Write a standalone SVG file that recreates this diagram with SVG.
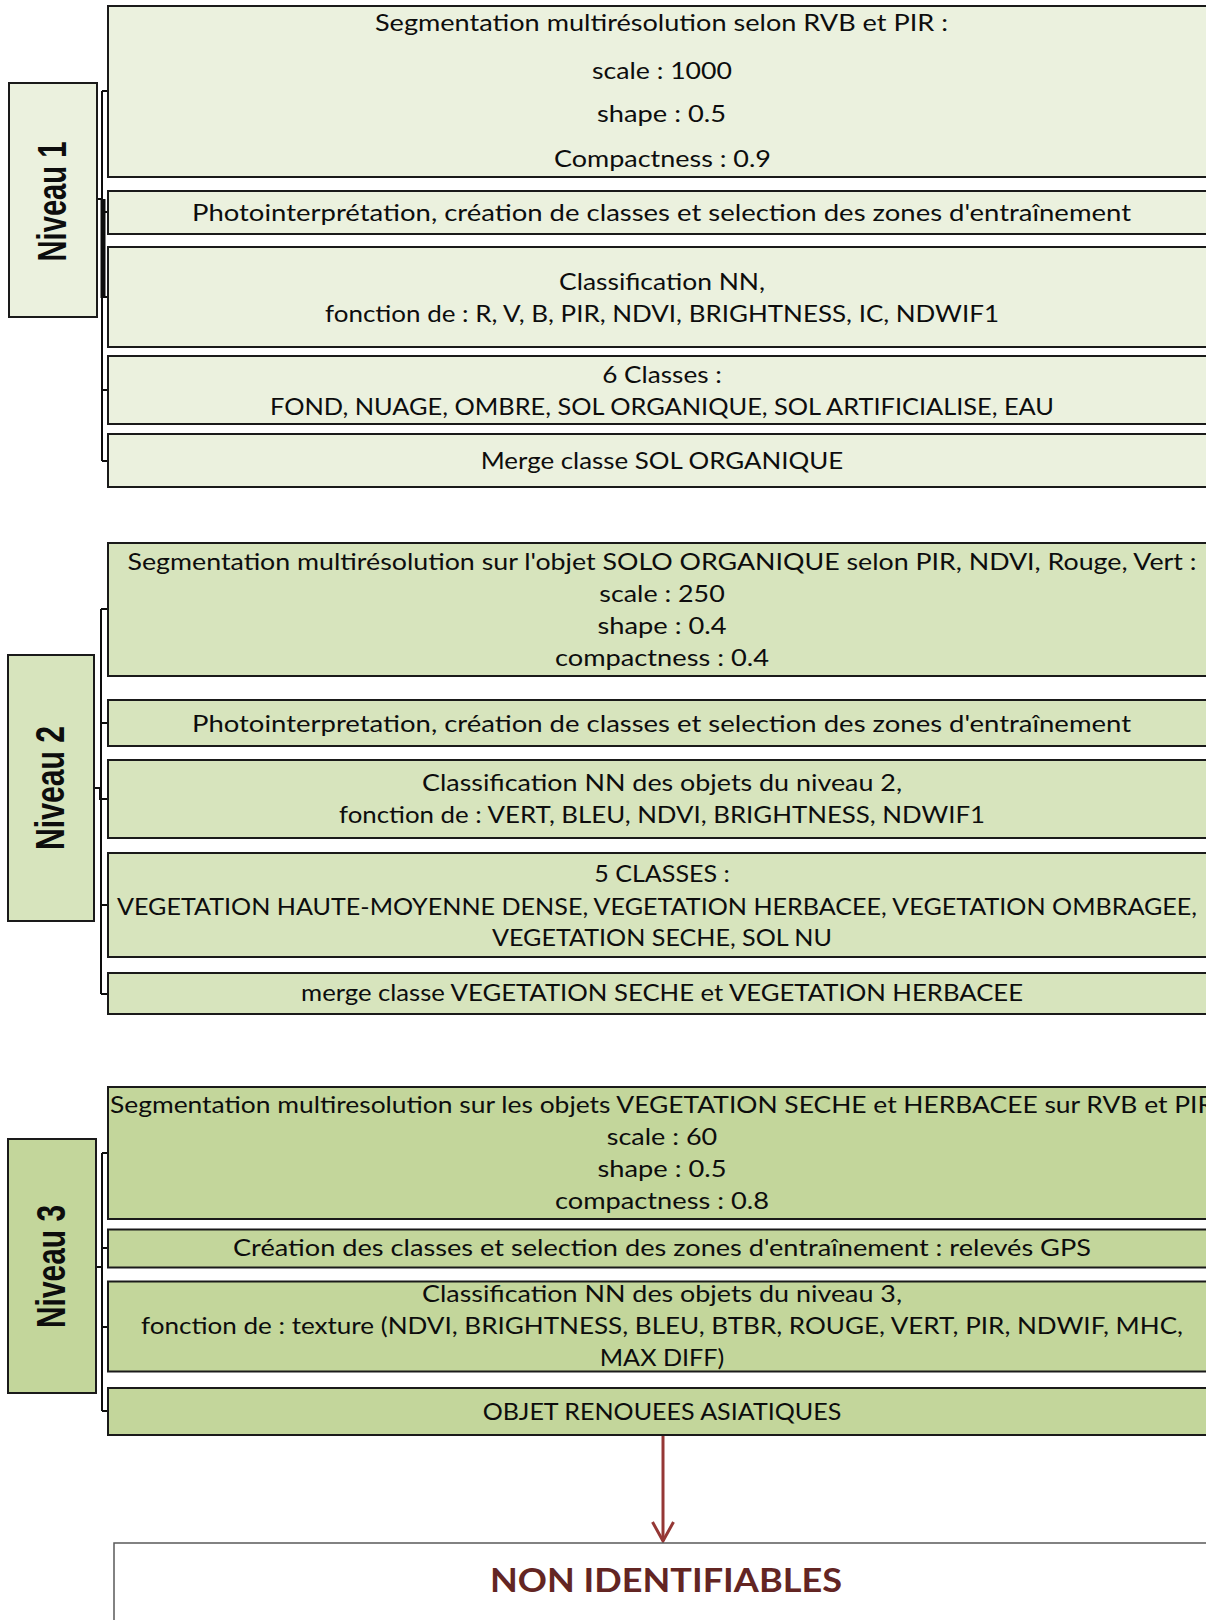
<svg xmlns="http://www.w3.org/2000/svg" width="1206" height="1620" viewBox="0 0 1206 1620">
<style>
.t{font-family:Lato,"Open Sans","Liberation Sans",sans-serif;font-size:23px;fill:#0d0d0d;text-anchor:middle}
.n{font-family:"Liberation Sans",Arial,sans-serif;font-weight:bold;font-size:40px;fill:#0d0d0d;text-anchor:middle}
.b{stroke:#1a1a1a;stroke-width:2}
.l1{fill:#EBF1DE}.l2{fill:#D7E4BD}.l3{fill:#C3D69B}
.c{fill:none;stroke:#0d0d0d;stroke-width:2}
</style>
<defs>
<marker id="ah" markerWidth="24" markerHeight="24" refX="21" refY="12" orient="auto" markerUnits="userSpaceOnUse" viewBox="0 0 24 24">
<path d="M2,1.5 L21,12 L2,22.5" fill="none" stroke="#953735" stroke-width="3"/>
</marker>
</defs>
<rect width="1206" height="1620" fill="#fff"/>

<g id="connectors">
<!-- level 1 -->
<path class="c" d="M97,199 H102 M102,91 V461 M102,91 H108 M102,212 H108 M102,297 H108 M102,390 H108 M102,461 H108"/>
<path d="M103,199 V298" stroke="#0d0d0d" stroke-width="5" fill="none"/>
<!-- level 2 -->
<path class="c" d="M101,609 V994 M101,609 H108 M101,723 H108 M101,905 H108 M101,994 H108 M94,788 H100 V799 H108"/>
<!-- level 3 -->
<path class="c" d="M96,1267 H102 M102,1153 V1411 M102,1153 H108 M102,1248 H108 M102,1327 H108 M102,1411 H108"/>
<!-- arrow -->
<path d="M663,1436 V1541" stroke="#953735" stroke-width="3" fill="none" marker-end="url(#ah)"/>
</g>

<g id="niveau1"><rect class="b l1" x="9" y="83" width="88" height="234"/>
<text class="n" transform="translate(65.5,201.5) rotate(-90)" textLength="120" lengthAdjust="spacingAndGlyphs">Niveau 1</text></g>
<g id="niveau2"><rect class="b l2" x="8" y="655" width="86" height="266"/>
<text class="n" transform="translate(63.5,788) rotate(-90)" textLength="124" lengthAdjust="spacingAndGlyphs">Niveau 2</text></g>
<g id="niveau3"><rect class="b l3" x="8" y="1139" width="88" height="254"/>
<text class="n" transform="translate(65,1266.5) rotate(-90)" textLength="123" lengthAdjust="spacingAndGlyphs">Niveau 3</text></g>

<g id="n1a"><rect class="b l1" x="108" y="6" width="1110" height="171"/>
<text class="t" x="661.5" y="31" textLength="573" lengthAdjust="spacingAndGlyphs">Segmentation multirésolution selon RVB et PIR :</text>
<text class="t" x="662" y="78.5" textLength="140" lengthAdjust="spacingAndGlyphs">scale : 1000</text>
<text class="t" x="661.5" y="122" textLength="129" lengthAdjust="spacingAndGlyphs">shape : 0.5</text>
<text class="t" x="662.5" y="166.5" textLength="217" lengthAdjust="spacingAndGlyphs">Compactness : 0.9</text></g>
<g id="n1b"><rect class="b l1" x="108" y="191" width="1110" height="43"/>
<text class="t" x="661.5" y="221" textLength="939" lengthAdjust="spacingAndGlyphs">Photointerprétation, création de classes et selection des zones d'entraînement</text></g>
<g id="n1c"><rect class="b l1" x="108" y="247" width="1110" height="100"/>
<text class="t" x="662" y="290" textLength="206" lengthAdjust="spacingAndGlyphs">Classification NN,</text>
<text class="t" x="662" y="322" textLength="674" lengthAdjust="spacingAndGlyphs">fonction de : R, V, B, PIR, NDVI, BRIGHTNESS, IC, NDWIF1</text></g>
<g id="n1d"><rect class="b l1" x="108" y="356" width="1110" height="68"/>
<text class="t" x="662" y="383" textLength="119.5" lengthAdjust="spacingAndGlyphs">6 Classes :</text>
<text class="t" x="662" y="415" textLength="784" lengthAdjust="spacingAndGlyphs">FOND, NUAGE, OMBRE, SOL ORGANIQUE, SOL ARTIFICIALISE, EAU</text></g>
<g id="n1e"><rect class="b l1" x="108" y="434" width="1110" height="53"/>
<text class="t" x="662" y="469" textLength="362.5" lengthAdjust="spacingAndGlyphs">Merge classe SOL ORGANIQUE</text></g>

<g id="n2a"><rect class="b l2" x="108" y="543" width="1110" height="133"/>
<text class="t" x="662" y="569.5" textLength="1069" lengthAdjust="spacingAndGlyphs">Segmentation multirésolution sur l'objet SOLO ORGANIQUE selon PIR, NDVI, Rouge, Vert :</text>
<text class="t" x="662" y="601.5" textLength="125.5" lengthAdjust="spacingAndGlyphs">scale : 250</text>
<text class="t" x="662" y="633.5" textLength="129" lengthAdjust="spacingAndGlyphs">shape : 0.4</text>
<text class="t" x="662" y="665.5" textLength="214" lengthAdjust="spacingAndGlyphs">compactness : 0.4</text></g>
<g id="n2b"><rect class="b l2" x="108" y="700" width="1110" height="46"/>
<text class="t" x="661.5" y="731.5" textLength="939" lengthAdjust="spacingAndGlyphs">Photointerpretation, création de classes et selection des zones d'entraînement</text></g>
<g id="n2c"><rect class="b l2" x="108" y="760" width="1110" height="78"/>
<text class="t" x="662" y="791" textLength="480" lengthAdjust="spacingAndGlyphs">Classification NN des objets du niveau 2,</text>
<text class="t" x="662" y="823" textLength="646" lengthAdjust="spacingAndGlyphs">fonction de : VERT, BLEU, NDVI, BRIGHTNESS, NDWIF1</text></g>
<g id="n2d"><rect class="b l2" x="108" y="853" width="1110" height="104"/>
<text class="t" x="662" y="882" textLength="135.6" lengthAdjust="spacingAndGlyphs">5 CLASSES :</text>
<text class="t" x="657" y="914.5" textLength="1080" lengthAdjust="spacingAndGlyphs">VEGETATION HAUTE-MOYENNE DENSE, VEGETATION HERBACEE, VEGETATION OMBRAGEE,</text>
<text class="t" x="662" y="946" textLength="340" lengthAdjust="spacingAndGlyphs">VEGETATION SECHE, SOL NU</text></g>
<g id="n2e"><rect class="b l2" x="108" y="973" width="1110" height="41"/>
<text class="t" x="662" y="1000.5" textLength="722" lengthAdjust="spacingAndGlyphs">merge classe VEGETATION SECHE et VEGETATION HERBACEE</text></g>

<g id="n3a"><rect class="b l3" x="108" y="1087" width="1110" height="132"/>
<text class="t" x="662" y="1112.5" textLength="1104" lengthAdjust="spacingAndGlyphs">Segmentation multiresolution sur les objets VEGETATION SECHE et HERBACEE sur RVB et PIR</text>
<text class="t" x="662" y="1144.5" textLength="110.4" lengthAdjust="spacingAndGlyphs">scale : 60</text>
<text class="t" x="662" y="1176.5" textLength="129" lengthAdjust="spacingAndGlyphs">shape : 0.5</text>
<text class="t" x="662" y="1208.5" textLength="214" lengthAdjust="spacingAndGlyphs">compactness : 0.8</text></g>
<g id="n3b"><rect class="b l3" x="108" y="1229.5" width="1110" height="38"/>
<text class="t" x="662" y="1256" textLength="858" lengthAdjust="spacingAndGlyphs">Création des classes et selection des zones d'entraînement : relevés GPS</text></g>
<g id="n3c"><rect class="b l3" x="108" y="1281.5" width="1110" height="90"/>
<text class="t" x="662" y="1302" textLength="480" lengthAdjust="spacingAndGlyphs">Classification NN des objets du niveau 3,</text>
<text class="t" x="662" y="1334" textLength="1042" lengthAdjust="spacingAndGlyphs">fonction de : texture (NDVI, BRIGHTNESS, BLEU, BTBR, ROUGE, VERT, PIR, NDWIF, MHC,</text>
<text class="t" x="662" y="1366" textLength="124.5" lengthAdjust="spacingAndGlyphs">MAX DIFF)</text></g>
<g id="n3d"><rect class="b l3" x="108" y="1388" width="1110" height="47"/>
<text class="t" x="662" y="1419.5" textLength="358.5" lengthAdjust="spacingAndGlyphs">OBJET RENOUEES ASIATIQUES</text></g>

<g id="nonid"><rect x="114" y="1543" width="1110" height="120" fill="#fff" stroke="#595959" stroke-width="1.5"/>
<text x="666" y="1592" font-family="Lato,'Open Sans',sans-serif" font-weight="bold" font-size="32" fill="#632523" text-anchor="middle" textLength="352" lengthAdjust="spacingAndGlyphs">NON IDENTIFIABLES</text></g>
</svg>
